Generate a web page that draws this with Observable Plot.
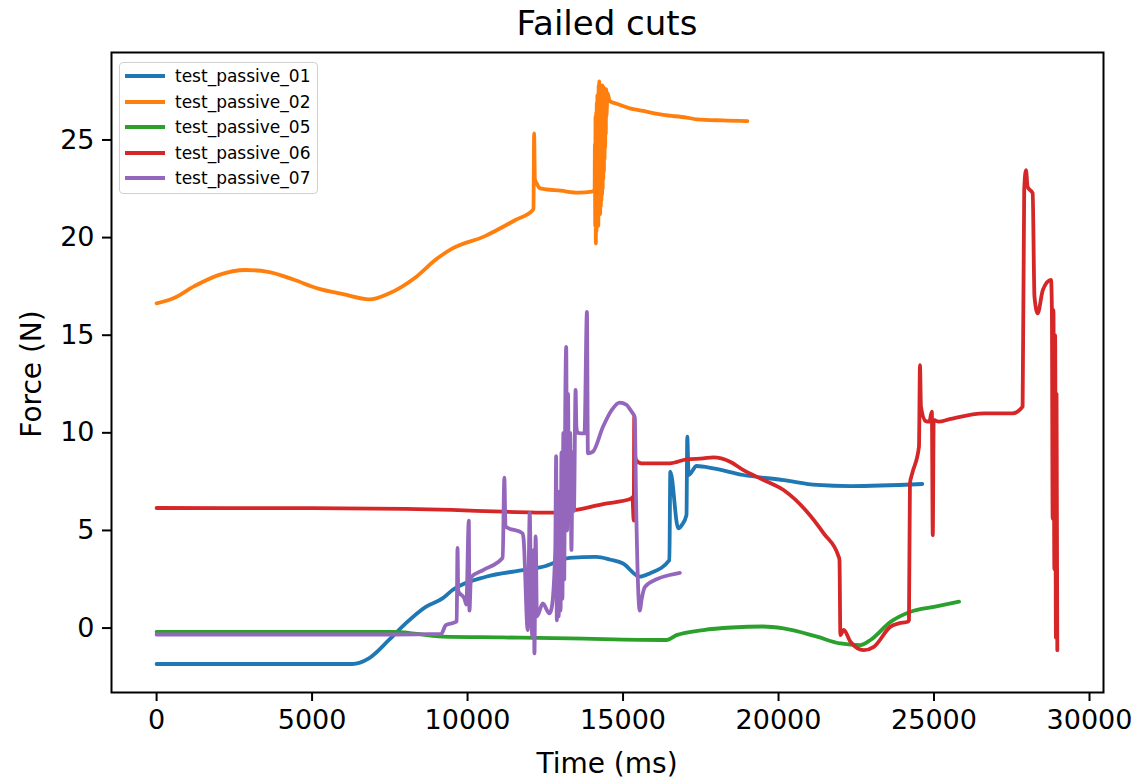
<!DOCTYPE html>
<html>
<head>
<meta charset="utf-8">
<script src="https://cdn.jsdelivr.net/npm/d3@7"></script>
<script src="https://cdn.jsdelivr.net/npm/@observablehq/plot@0.6"></script>
<style>
  html, body { margin: 0; padding: 0; background: #fff; }
  #wrap { position: relative; width: 1133px; height: 782px; font-family: "DejaVu Sans", sans-serif; }
  #title { position: absolute; left: 111px; width: 992px; top: 0; height: 40px; line-height: 46px; text-align: center; font-size: 34px; color: #000; }
  #chart { position: absolute; left: 0; top: 40px; }
  #xlabel { position: absolute; left: 111px; width: 992px; top: 746px; line-height: 36px; text-align: center; font-size: 28px; color: #000; }
  #ylabel { position: absolute; left: 31px; top: 374px; font-size: 28px; color: #000; white-space: nowrap;
            transform: translate(-50%, -50%) rotate(-90deg); }
  #legend { position: absolute; left: 119px; top: 62px; width: 199px; height: 132px; box-sizing: border-box;
            border: 1px solid #d0d0d0; border-radius: 4px; background: rgba(255,255,255,0.8); }
  .entry { position: absolute; left: 0; height: 20px; }
  .swatch { position: absolute; left: 5px; width: 40px; height: 4px; top: 8px; }
  .label { position: absolute; left: 55px; top: 0; line-height: 20px; font-size: 17px; color: #000; white-space: nowrap; }
</style>
</head>
<body>
<div id="wrap">
  <div id="title">Failed cuts</div>
  <div id="chart"></div>
  <div id="xlabel">Time (ms)</div>
  <div id="ylabel">Force (N)</div>
  <div id="legend"></div>
</div>
<script>
// Series names and colours (matplotlib tab10 order)
const seriesNames = ["test_passive_01", "test_passive_02", "test_passive_05", "test_passive_06", "test_passive_07"];
const seriesColors = ["#1f77b4", "#ff7f0e", "#2ca02c", "#d62728", "#9467bd"];

// Axis ticks
const timeTicks = [0, 5000, 10000, 15000, 20000, 25000, 30000];
const forceTicks = [0, 5, 10, 15, 20, 25];

// test_passive_01
const time01 = [0, 6290, 6828, 7473, 8010, 8656, 9194, 9516, 10591, 11667, 12419, 13280, 14140, 14600, 15000, 15538, 15860, 16490, 16520, 16774, 16900, 17040, 17065, 17110, 17365, 17903, 18871, 20161, 21236, 22312, 24623];
const force01 = [-1.84, -1.84, -1.55, -0.61, 0.24, 1.09, 1.52, 1.95, 2.63, 2.94, 3.14, 3.6, 3.65, 3.5, 3.31, 2.63, 2.8, 3.48, 8.01, 5.11, 5.3, 5.79, 9.8, 7.84, 8.3, 8.18, 7.84, 7.58, 7.33, 7.27, 7.38];

// test_passive_02
const time02 = [0, 541, 1200, 1987, 2858, 3581, 4400, 5171, 6000, 6840, 7484, 8355, 9000, 9516, 10525, 11537, 12100, 12120, 12140, 12165, 12230, 12335, 13000, 13564, 14000, 14086,
  14095, 14105, 14115, 14125, 14135, 14145, 14155, 14165, 14175, 14185, 14195, 14205, 14215, 14225, 14235, 14245, 14255, 14265, 14275, 14285,
  14295, 14305, 14315, 14325, 14335, 14345, 14355, 14365, 14375, 14385, 14395, 14405, 14415, 14425, 14435, 14445, 14455, 14465,
  14500, 14570, 14800, 15215, 15593, 16290, 17038, 17366, 18200, 19000];
const force02 = [16.63, 16.89, 17.5, 18.08, 18.34, 18.25, 17.85, 17.4, 17.1, 16.84, 17.15, 18.0, 18.9, 19.45, 20.05, 20.9, 21.41, 21.5, 25.34, 23.0, 22.75, 22.52, 22.4, 22.3, 22.35, 22.44,
  24.8, 20.6, 26.2, 19.7, 26.4, 20.3, 26.9, 20.8, 27.3, 21.0, 27.1, 20.6, 27.8, 21.2, 28.0, 21.4, 27.5, 21.2, 27.7, 21.6,
  27.2, 21.9, 27.6, 22.2, 27.8, 22.5, 27.4, 23.0, 27.7, 23.4, 27.3, 24.0, 27.6, 24.6, 27.5, 25.3, 27.6, 26.2,
  27.4, 27.0, 26.85, 26.62, 26.5, 26.28, 26.15, 26.06, 26.0, 25.97];

// test_passive_05
const time05 = [0, 7650, 9194, 11129, 13280, 16398, 16720, 17580, 18500, 19500, 20161, 21236, 21989, 22634, 22957, 23602, 24247, 25000, 25806];
const force05 = [-0.19, -0.19, -0.44, -0.48, -0.53, -0.61, -0.36, -0.1, 0.03, 0.08, -0.02, -0.44, -0.79, -0.87, -0.61, 0.32, 0.84, 1.09, 1.35];

// test_passive_06
const time06 = [0, 5000, 8000, 9500, 11129, 12849, 13495, 14355, 15268, 15300, 15344, 15360, 15380, 15420, 15591, 16505, 17043, 17580, 17903, 18441, 18871, 19500, 20161, 20914, 21452, 21936, 21960, 21989, 22097, 22312, 22742, 23065, 23602, 23871, 24150, 24194, 24226, 24300, 24516, 24548, 24580, 24731, 24850, 24930, 24960, 24990, 25150, 25500, 26613, 27527, 27849, 27900, 27957, 28010, 28172, 28230, 28333, 28500, 28763, 28790, 28815, 28840, 28870, 28895, 28920, 28940, 28965];
const force06 = [6.15, 6.14, 6.1, 6.05, 5.96, 5.91, 6.05, 6.35, 6.64, 6.7, 5.5, 10.8, 9.0, 8.6, 8.44, 8.44, 8.64, 8.69, 8.74, 8.52, 8.09, 7.6, 7.07, 5.96, 4.85, 3.65, 3.48, -0.36, -0.1, -0.7, -1.13, -0.96, 0.07, 0.24, 0.32, 0.4, 7.41, 7.93, 9.29, 13.47, 11.34, 10.6, 10.57, 11.09, 4.76, 10.66, 10.57, 10.7, 11.0, 11.0, 11.34, 22.44, 23.46, 22.6, 22.27, 16.98, 16.12, 17.32, 17.83, 16.4, 5.6, 16.3, 3.0, 15.0, -0.5, 12.0, -1.13];

// test_passive_07
const time07 = [0, 3000, 7600, 9150, 9300, 9600, 9650, 9677, 9700, 9900, 9960, 10040, 10060, 10110, 10500, 11130, 11183, 11220, 11770, 11800, 11935, 12000, 12030, 12080, 12130, 12150, 12190, 12230, 12420, 12630, 12700, 12820, 12849, 12870, 12900, 12930, 12960, 12990, 13020, 13050, 13080, 13110, 13140, 13172, 13200, 13230, 13260, 13300, 13340, 13380, 13420, 13474, 13500, 13540, 13760, 13839, 13870, 14032, 14355, 14650, 14892, 15100, 15268, 15376, 15420, 15500, 15538, 15600, 15700, 16075, 16500, 16828];
const force07 = [-0.33, -0.33, -0.33, -0.3, 0.15, 0.3, 0.35, 4.1, 1.9, 1.5, 1.2, 5.5, 0.9, 2.6, 2.97, 3.6, 7.7, 5.2, 4.85, 4.6, -0.1, 5.9, 3.0, -0.44, 4.0, -1.3, 4.7, 0.6, 1.26, 0.75, 1.0, 4.0, 8.8, 0.4, 5.7, 0.6, 7.0, 0.9, 9.0, 1.5, 10.0, 2.5, 11.0, 14.4, 5.0, 12.0, 6.0, 10.0, 4.0, 9.0, 6.0, 12.2, 10.3, 10.0, 9.97, 16.2, 8.95, 9.04, 10.31, 11.2, 11.55, 11.45, 11.1, 10.8, 6.4, 1.5, 0.9, 1.5, 2.1, 2.5, 2.72, 2.83];

const seriesTimes = [time01, time02, time05, time06, time07];
const seriesForces = [force01, force02, force05, force06, force07];

const rows = seriesNames.flatMap((name, i) =>
  seriesTimes[i].map((t, j) => ({series: name, time: t, force: seriesForces[i][j]}))
);

const chart = Plot.plot({
  width: 1133,
  height: 742,
  marginTop: 12,
  marginBottom: 90,
  marginLeft: 111,
  marginRight: 30,
  style: {fontFamily: "DejaVu Sans, sans-serif", color: "#000", background: "#fff", overflow: "visible"},
  x: {domain: [-1450, 30450]},
  y: {domain: [-3.3, 29.48]},
  color: {domain: seriesNames, range: seriesColors},
  marks: [
    Plot.line(rows, {x: "time", y: "force", z: "series", stroke: "series", strokeWidth: 3.8, curve: "monotone-x", strokeLinejoin: "round"}),
    Plot.frame({stroke: "#000", strokeWidth: 2}),
    Plot.axisX({ticks: timeTicks, tickSize: 9, tickPadding: 8, fontSize: 27, label: null, tickFormat: d => String(d), strokeWidth: 2}),
    Plot.axisY({ticks: forceTicks, tickSize: 9, tickPadding: 8, fontSize: 27, label: null, tickFormat: d => String(d), strokeWidth: 2})
  ]
});
document.getElementById("chart").appendChild(chart);

// Legend
const legend = document.getElementById("legend");
seriesNames.forEach((name, i) => {
  const entry = document.createElement("div");
  entry.className = "entry";
  entry.style.top = (3 + i * 25.5) + "px";
  const sw = document.createElement("div");
  sw.className = "swatch";
  sw.style.background = seriesColors[i];
  const lab = document.createElement("div");
  lab.className = "label";
  lab.textContent = name;
  entry.appendChild(sw);
  entry.appendChild(lab);
  legend.appendChild(entry);
});
</script>
</body>
</html>
